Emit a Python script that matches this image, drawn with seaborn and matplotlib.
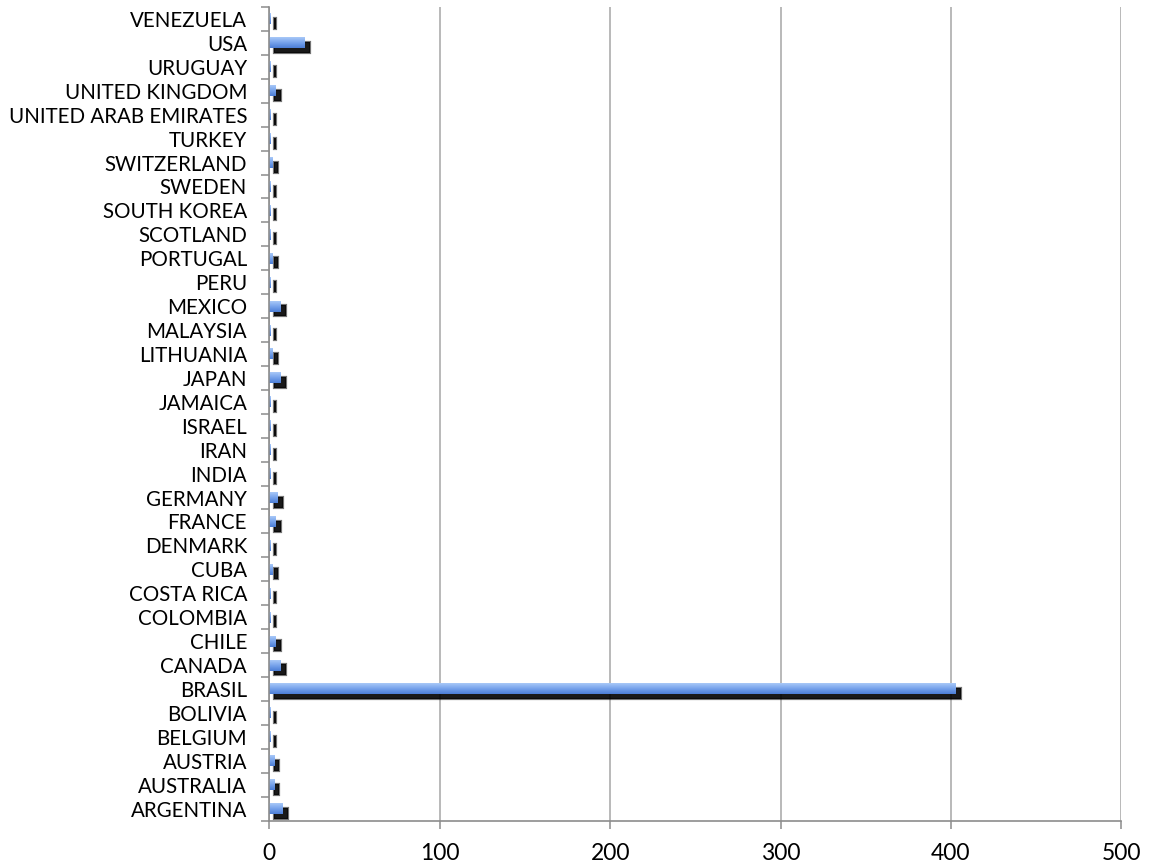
import numpy as np
import pandas as pd
import matplotlib
matplotlib.use("Agg")
import matplotlib.pyplot as plt
import matplotlib.patheffects as pe
from matplotlib.colors import LinearSegmentedColormap
import seaborn as sns

countries = ["VENEZUELA", "USA", "URUGUAY", "UNITED KINGDOM", "UNITED ARAB EMIRATES",
             "TURKEY", "SWITZERLAND", "SWEDEN", "SOUTH KOREA", "SCOTLAND", "PORTUGAL",
             "PERU", "MEXICO", "MALAYSIA", "LITHUANIA", "JAPAN", "JAMAICA", "ISRAEL",
             "IRAN", "INDIA", "GERMANY", "FRANCE", "DENMARK", "CUBA", "COSTA RICA",
             "COLOMBIA", "CHILE", "CANADA", "BRASIL", "BOLIVIA", "BELGIUM", "AUSTRIA",
             "AUSTRALIA", "ARGENTINA"]
values = [1, 21, 1, 4, 1,
          1, 2, 1, 1, 1, 2,
          1, 7, 1, 2, 7, 1, 1,
          1, 1, 5, 4, 1, 2, 1,
          1, 4, 7, 403, 1, 1, 3,
          3, 8]
xticks = [0, 100, 200, 300, 400, 500]

df = pd.DataFrame({"country": countries, "value": values})

sns.set_theme(style="white")
plt.rcParams["font.family"] = ["Lato", "DejaVu Sans"]

fig = plt.figure(figsize=(11.52, 8.67), dpi=100)
ax = fig.add_axes([0.2338, 0.0536, 0.9734 - 0.2338, 0.9919 - 0.0536])

sns.barplot(data=df, y="country", x="value", orient="h", color="#6F9CE8",
            saturation=1, width=0.46, ax=ax, linewidth=0, errorbar=None)

ax.set_xlim(0, 500)
ax.set_ylim(len(countries) - 0.5, -0.5)

cmap = LinearSegmentedColormap.from_list("bar", ["#B2CFF9", "#8DB4F2", "#6A98E6", "#4C7ED6"])
grad = np.linspace(0, 1, 64).reshape(-1, 1)
for p in list(ax.patches):
    p.set_path_effects([
        pe.SimpleLineShadow(offset=(3.6, -3.3), shadow_color="black", alpha=0.55, linewidth=1.6),
        pe.SimplePatchShadow(offset=(3.6, -3.3), shadow_rgbFace="black", alpha=0.9),
        pe.Normal()])
    x0, y0, w, h = p.get_x(), p.get_y(), p.get_width(), p.get_height()
    im = ax.imshow(grad, cmap=cmap, aspect="auto", extent=[x0, x0 + w, y0 + h, y0],
                   origin="upper", zorder=p.get_zorder() + 0.1, interpolation="bilinear")
    im.set_clip_path(p)

ax.set_xlim(0, 500)
ax.set_ylim(len(countries) - 0.5, -0.5)

ax.set_xticks(xticks)
ax.set_xticklabels([str(t) for t in xticks])
ax.xaxis.grid(True, color="#A6A6A6", linewidth=1.1)
ax.yaxis.grid(False)
ax.set_axisbelow(True)

ax.set_xlabel("")
ax.set_ylabel("")

for s in ["top", "right"]:
    ax.spines[s].set_visible(False)
for s in ["left", "bottom"]:
    ax.spines[s].set_color("#8C8C8C")
    ax.spines[s].set_linewidth(1.2)

ax.tick_params(axis="x", which="major", direction="out", length=6, width=1.1,
               color="#8C8C8C", pad=10.5, labelsize=16.5, labelcolor="black", bottom=True)
ax.set_yticks(range(len(countries)))
ax.set_yticklabels(countries)
ax.set_yticks(np.arange(-0.5, len(countries), 1.0), minor=True)
ax.tick_params(axis="y", which="major", length=0, pad=16, labelsize=14.8, labelcolor="black", left=True)
ax.tick_params(axis="y", which="minor", direction="out", length=6, width=1.1,
               color="#8C8C8C", left=True)

fig.savefig("out.png", dpi=100)
